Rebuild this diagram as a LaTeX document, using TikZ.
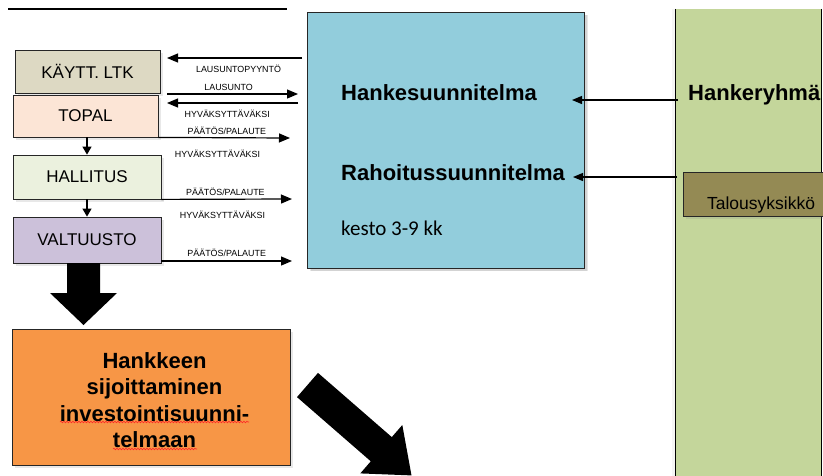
\documentclass[tikz,border=0pt]{standalone}
\usepackage{fontspec}
\setmainfont{Liberation Sans}
\newfontfamily\calibri{Carlito}
\usetikzlibrary{positioning,arrows.meta,shadows,calc,decorations.pathmorphing}

\definecolor{ltkcol}{RGB}{221,217,195}
\definecolor{topalcol}{RGB}{252,229,214}
\definecolor{hallcol}{RGB}{235,241,222}
\definecolor{valtcol}{RGB}{204,193,218}
\definecolor{suunncol}{RGB}{146,205,220}
\definecolor{ryhmacol}{RGB}{196,214,155}
\definecolor{talouscol}{RGB}{148,138,84}
\definecolor{sijcol}{RGB}{247,150,70}

\tikzset{
  box/.style={draw=black!85, line width=0.8pt, minimum width=145pt, minimum height=43pt,
    inner sep=0pt, font=\fontsize{17}{20}\selectfont,
    drop shadow={opacity=0.18, shadow xshift=2.5pt, shadow yshift=-2.5pt}},
  lbl/.style={font=\fontsize{8.9}{10}\selectfont, inner sep=0pt},
  big/.style={font=\bfseries\fontsize{22}{26.5}\selectfont, inner sep=2pt},
  flow/.style={line width=1.2pt, -{Triangle[length=11pt,width=9pt]}},
  down/.style={line width=1.2pt, -{Triangle[length=8pt,width=9pt]}},
  squiggle/.style={draw=red!85, line width=0.6pt,
    decorate, decoration={snake, segment length=3pt, amplitude=0.8pt}},
}

\begin{document}
\begin{tikzpicture}[x=1pt,y=-1pt]
\useasboundingbox (0,0) rectangle (823,475);
\clip (0,0) rectangle (823,475);

% line at the top
\draw[line width=1.2pt] (8,9) -- (287,9);

% hankeryhma column
\node[fill=ryhmacol, minimum width=145pt, minimum height=471pt, inner sep=0pt,
  drop shadow={opacity=0.08, shadow xshift=-4pt, shadow yshift=0pt}] (ryhma) at (748.5,244.5) {};
\draw[line width=0.8pt] (ryhma.north west) -- (ryhma.south west)
  (ryhma.north east) -- (ryhma.south east);
\node[big, anchor=west] (ryhmateksti) at (686,95) {Hankeryhmä};
\node[box, fill=talouscol, minimum width=156pt, minimum height=44pt,
  label={[font=\fontsize{17.5}{20}\selectfont, yshift=-11pt]center:Talousyksikkö}] (talous) at (761,194) {};

% suunnitelmat
\node[box, fill=suunncol, minimum width=277pt, minimum height=256pt,
  drop shadow={opacity=0.2, shadow xshift=4pt, shadow yshift=-3pt}] (suunn) at (445.5,140) {};
\node[big, anchor=west] (hanke) at (339,93) {Hankesuunnitelma};
\node[big, anchor=west] (rahoitus) at (339,173) {Rahoitussuunnitelma};
\node[anchor=west, inner sep=2pt, font=\calibri\fontsize{21}{24}\selectfont] (kesto) at (339,228) {kesto 3-9 kk};

\coordinate (h0) at (678,100);
\coordinate (h1) at (572,100);
\coordinate (r0) at (677,177);
\coordinate (r1) at (573,177);
\draw[flow, -{Triangle[length=10pt,width=8pt]}] (h0) -- (h1);
\draw[flow, -{Triangle[length=10pt,width=8pt]}] (r0) -- (r1);

% paattajat
\node[box, fill=ltkcol] (ltk) at (87.5,71.5) {KÄYTT. LTK};
\node[box, fill=topalcol, minimum height=42pt] (topal) at (85.5,116) {TOPAL};
\node[box, fill=hallcol, minimum width=148pt, minimum height=44pt] (hallitus) at (87,177) {HALLITUS};
\node[box, fill=valtcol, minimum width=148pt, minimum height=46pt] (valtuusto) at (87,240) {VALTUUSTO};

\draw[down] (topal.south -| hallitus.north) -- (hallitus.north);
\draw[down] (hallitus.south) -- (valtuusto.north);

\coordinate (a0) at (302,58);
\coordinate (a1) at (167,58);
\coordinate (b0) at (167,94);
\coordinate (b1) at (298,94);
\coordinate (c0) at (298,103);
\coordinate (c1) at (167,103);
\coordinate (p1) at (290,138);
\coordinate (p2) at (292,199);
\coordinate (p3) at (292,261);

\path[flow]
  (a0) edge node[lbl, below=6pt, pos=.47] {LAUSUNTOPYYNTÖ} (a1)
  (b0) edge node[lbl, above=2.5pt, pos=.47] {LAUSUNTO} (b1)
  (c0) edge node[lbl, below=6pt, pos=.54] {HYVÄKSYTTÄVÄKSI} (c1)
  (topal.south east) edge node[lbl, above=3pt, pos=.52] {PÄÄTÖS/PALAUTE} (p1)
  (hallitus.south east) edge node[lbl, above=3pt, pos=.49] {PÄÄTÖS/PALAUTE} (p2)
  (valtuusto.south east |- p3) edge node[lbl, above=4pt, pos=.5] {PÄÄTÖS/PALAUTE} (p3);

\node[lbl] (hyv2) at (217.5,154) {HYVÄKSYTTÄVÄKSI};
\node[lbl] (hyv3) at (222.5,215) {HYVÄKSYTTÄVÄKSI};

% isot nuolet
\fill (67,263) -- (100,263) -- (100,293) -- (117,293) -- (83.5,325)
  -- (50,293) -- (67,293) -- cycle;
\fill (318,372.9) -- (391.8,437.1) -- (402.3,425) -- (411.5,475.4)
  -- (360.3,473.4) -- (370.8,461.3) -- (297,397.1) -- cycle;

% investointisuunnitelma
\node[box, fill=sijcol, minimum width=278pt, minimum height=136pt] (sijoitus) at (151,397) {};
\node[big, align=center] (sijteksti) at (154.5,400) {Hankkeen\\sijoittaminen\\investointisuunni-\\telmaan};
\draw[squiggle] (60,422) -- (249,422);
\draw[squiggle] (113,449) -- (197,449);
\end{tikzpicture}
\end{document}
